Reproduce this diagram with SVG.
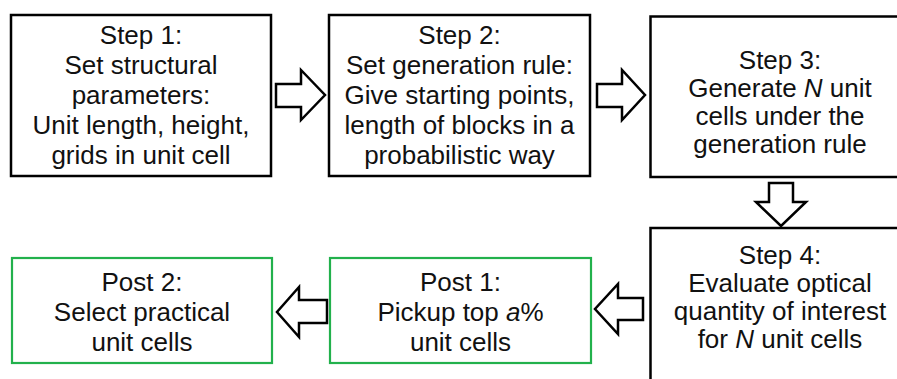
<svg xmlns="http://www.w3.org/2000/svg" width="897" height="379" viewBox="0 0 897 379">
<style>
  .box { fill: #fff; stroke: #000; stroke-width: 2.5; }
  .post { fill: #fff; stroke: #22b14c; stroke-width: 2.2; }
  .arrow { fill: #fff; stroke: #000; stroke-width: 2.5; stroke-linejoin: miter; }
  text { font-family: "Liberation Sans", Arial, Helvetica, sans-serif; font-size: 26px; fill: #111; text-anchor: middle; }
  .it { font-style: italic; }
</style>
<rect width="897" height="379" fill="#fff"/>
<g id="step1">
  <rect class="box" x="11" y="15" width="260" height="161"/>
  <text x="141" y="44">Step 1:</text>
  <text x="141" y="74">Set structural</text>
  <text x="141" y="104">parameters:</text>
  <text x="141" y="134">Unit length, height,</text>
  <text x="141" y="164">grids in unit cell</text>
</g>
<g id="step2">
  <rect class="box" x="329" y="15" width="261" height="161"/>
  <text x="459.5" y="44">Step 2:</text>
  <text x="459.5" y="74">Set generation rule:</text>
  <text x="459.5" y="104">Give starting points,</text>
  <text x="459.5" y="134">length of blocks in a</text>
  <text x="459.5" y="164">probabilistic way</text>
</g>
<g id="step3">
  <rect class="box" x="650.5" y="16.5" width="262" height="160.5"/>
  <text x="780" y="69">Step 3:</text>
  <text x="780" y="97">Generate <tspan class="it">N</tspan> unit</text>
  <text x="780" y="125">cells under the</text>
  <text x="780" y="153">generation rule</text>
</g>
<g id="step4">
  <rect class="box" x="650.5" y="228" width="262" height="165"/>
  <text x="780" y="264">Step 4:</text>
  <text x="780" y="292">Evaluate optical</text>
  <text x="780" y="320">quantity of interest</text>
  <text x="780" y="348">for <tspan class="it">N</tspan> unit cells</text>
</g>
<g id="post1">
  <rect class="post" x="330" y="258" width="261" height="105"/>
  <text x="460.5" y="291">Post 1:</text>
  <text x="460.5" y="321">Pickup top <tspan class="it">a</tspan>%</text>
  <text x="460.5" y="351">unit cells</text>
</g>
<g id="post2">
  <rect class="post" x="12" y="258" width="260" height="105"/>
  <text x="142" y="291">Post 2:</text>
  <text x="142" y="321">Select practical</text>
  <text x="142" y="351">unit cells</text>
</g>
<g id="connectors">
  <polygon class="arrow" points="276,84 301,84 301,70 325,95 301,120 301,107 276,107"/>
  <polygon class="arrow" points="597,84 622,84 622,70 645,95 622,120 622,107 597,107"/>
  <polygon class="arrow" points="769,183 793,183 793,202 806,202 781,226 756,202 769,202"/>
  <polygon class="arrow" points="643,298 618,298 618,284 595,309 618,334 618,320 643,320"/>
  <polygon class="arrow" points="327,300 299,300 299,287 277,312 299,337 299,323 327,323"/>
</g>
</svg>
